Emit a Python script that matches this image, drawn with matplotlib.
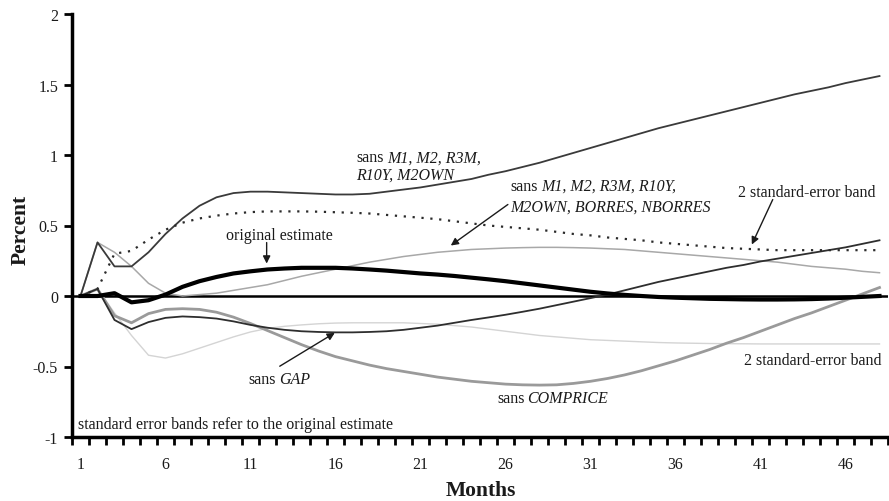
import numpy as np
import matplotlib
matplotlib.use("Agg")
import matplotlib.pyplot as plt

plt.rcParams["font.family"] = ["Liberation Serif", "DejaVu Serif"]

months = np.arange(1, 49)

# impulse responses (percent) for each specification
original = [0, 0, 0.02, -0.045, -0.03, 0.01, 0.065, 0.105, 0.135, 0.16,
            0.175, 0.188, 0.195, 0.2, 0.2, 0.2, 0.195, 0.188, 0.18, 0.17,
            0.16, 0.152, 0.142, 0.13, 0.118, 0.105, 0.09, 0.075, 0.06, 0.045,
            0.03, 0.018, 0.008, 0.0, -0.007, -0.012, -0.016, -0.02, -0.022, -0.024,
            -0.025, -0.025, -0.024, -0.022, -0.018, -0.012, -0.006, 0.0]
upper_band = [0, 0.05, 0.30, 0.32, 0.40, 0.47, 0.52, 0.55, 0.57, 0.585,
              0.595, 0.60, 0.60, 0.60, 0.598, 0.594, 0.59, 0.585, 0.575, 0.565,
              0.555, 0.545, 0.53, 0.515, 0.50, 0.49, 0.48, 0.47, 0.455, 0.44,
              0.43, 0.415, 0.405, 0.395, 0.38, 0.37, 0.36, 0.35, 0.34, 0.335,
              0.33, 0.325, 0.325, 0.325, 0.325, 0.325, 0.325, 0.325]
lower_band = [0, 0.05, -0.12, -0.28, -0.42, -0.44, -0.41, -0.37, -0.33, -0.29,
              -0.255, -0.23, -0.215, -0.205, -0.197, -0.192, -0.19, -0.19, -0.19, -0.19,
              -0.195, -0.20, -0.21, -0.22, -0.235, -0.25, -0.265, -0.28, -0.29, -0.30,
              -0.31, -0.315, -0.32, -0.325, -0.33, -0.333, -0.335, -0.337, -0.338, -0.339,
              -0.34, -0.34, -0.34, -0.34, -0.34, -0.34, -0.34, -0.34]
sans_money = [0, 0.38, 0.21, 0.21, 0.31, 0.44, 0.55, 0.64, 0.70, 0.73,
              0.74, 0.74, 0.735, 0.73, 0.725, 0.72, 0.72, 0.725, 0.74, 0.755,
              0.77, 0.79, 0.81, 0.83, 0.86, 0.885, 0.915, 0.945, 0.98, 1.015,
              1.05, 1.085, 1.12, 1.155, 1.19, 1.22, 1.25, 1.28, 1.31, 1.34,
              1.37, 1.40, 1.43, 1.455, 1.48, 1.51, 1.535, 1.56]
sans_money_res = [0, 0.38, 0.31, 0.21, 0.09, 0.02, 0.0, 0.01, 0.02, 0.04,
                  0.06, 0.08, 0.11, 0.14, 0.165, 0.19, 0.215, 0.24, 0.26, 0.28,
                  0.295, 0.31, 0.32, 0.33, 0.335, 0.34, 0.343, 0.345, 0.345, 0.343,
                  0.34, 0.335, 0.33, 0.32, 0.31, 0.30, 0.29, 0.28, 0.27, 0.26,
                  0.25, 0.24, 0.225, 0.21, 0.20, 0.19, 0.175, 0.165]
sans_gap = [0, 0.05, -0.17, -0.235, -0.185, -0.155, -0.145, -0.15, -0.16, -0.18,
            -0.205, -0.225, -0.24, -0.25, -0.255, -0.258, -0.258, -0.255, -0.25, -0.24,
            -0.225, -0.21, -0.19, -0.17, -0.152, -0.133, -0.112, -0.09, -0.065, -0.04,
            -0.015, 0.01, 0.04, 0.07, 0.10, 0.125, 0.15, 0.175, 0.20, 0.22,
            0.245, 0.265, 0.285, 0.305, 0.325, 0.345, 0.37, 0.395]
sans_comprice = [0, 0.05, -0.14, -0.19, -0.125, -0.095, -0.09, -0.095, -0.115, -0.15,
                 -0.195, -0.245, -0.295, -0.345, -0.39, -0.43, -0.46, -0.49, -0.515, -0.535,
                 -0.555, -0.575, -0.59, -0.605, -0.615, -0.625, -0.63, -0.632, -0.63, -0.62,
                 -0.605, -0.585, -0.56, -0.53, -0.495, -0.46, -0.42, -0.38, -0.335, -0.295,
                 -0.25, -0.205, -0.16, -0.12, -0.075, -0.03, 0.015, 0.06]

y_ticks = [-1, -0.5, 0, 0.5, 1, 1.5, 2]
y_tick_labels = ["-1", "-0.5", "0", "0.5", "1", "1.5", "2"]
x_label_months = [1, 6, 11, 16, 21, 26, 31, 36, 41, 46]

FS = 11.5
TXT = "#1a1a1a"

fig = plt.figure(figsize=(8.89, 5.02), dpi=100)
ax = fig.add_axes([72 / 889, 1 - 438 / 502, 816 / 889, 423 / 502])

ax.axhline(0, color="black", lw=1.8, zorder=2)
ax.plot(months, lower_band, color="#d4d4d4", lw=1.0, zorder=3)
ax.plot(months, sans_money_res, color="#a8a8a8", lw=1.1, zorder=3)
ax.plot(months, sans_comprice, color="#9a9a9a", lw=2.0, zorder=3)
ax.plot(months, sans_gap, color="#2e2e2e", lw=1.3, zorder=4)
ax.plot(months, sans_money, color="#3a3a3a", lw=1.3, zorder=4)
ax.plot(months, upper_band, color="#2a2a2a", lw=1.6, ls=(0, (1, 3)), zorder=4)
ax.plot(months, original, color="black", lw=3.0, zorder=5)

ax.set_xlim(0.5, 48.5)
ax.set_ylim(-1, 2)

for side in ("top", "right"):
    ax.spines[side].set_visible(False)
for side in ("left", "bottom"):
    ax.spines[side].set_linewidth(2.5)

ax.set_yticks(y_ticks)
ax.set_yticklabels(y_tick_labels)
ax.set_xticks(x_label_months)
ax.set_xticklabels([str(m) for m in x_label_months])
# tick marks sit between the months, labels on every fifth month
ax.set_xticks(np.arange(0.5, 49), minor=True)
ax.tick_params(axis="y", direction="out", length=6, width=2, pad=4,
               labelsize=FS, labelcolor=TXT)
ax.tick_params(axis="x", which="major", length=0, pad=14,
               labelsize=FS, labelcolor=TXT)
ax.tick_params(axis="x", which="minor", direction="out", length=6, width=2)

fig.text(21 / 889, 1 - 230 / 502, "Percent", rotation=90, ha="center",
         va="center", fontsize=15.5, fontweight="bold", color=TXT)
fig.text(481 / 889, 1 - 491 / 502, "Months", ha="center", va="center",
         fontsize=15.5, fontweight="bold", color=TXT)


def mixed(x, y, plain, italic):
    t = ax.text(x, y, plain, fontsize=FS, color=TXT, va="baseline", ha="left")
    ax.annotate(italic, xy=(1, 0), xycoords=t, xytext=(2.2, 0),
                textcoords="offset points", fontsize=FS, color=TXT,
                fontstyle="italic", va="bottom", ha="left")


def arrow(start, tip):
    ax.annotate("", xy=tip, xytext=start,
                arrowprops=dict(arrowstyle="-|>", color=TXT, lw=1.0,
                                mutation_scale=11, shrinkA=0, shrinkB=0))


mixed(17.24, 0.956, "sans", "M1, M2, R3M,")
ax.text(17.24, 0.831, "R10Y, M2OWN", fontsize=FS, color=TXT,
        fontstyle="italic", va="baseline", ha="left")

mixed(26.3, 0.755, "sans", "M1, M2, R3M, R10Y,")
ax.text(26.3, 0.608, "M2OWN, BORRES, NBORRES", fontsize=FS, color=TXT,
        fontstyle="italic", va="baseline", ha="left")
arrow((26.14, 0.649), (22.78, 0.358))

ax.text(43.75, 0.708, "2 standard-error band", fontsize=FS, color=TXT,
        ha="center", va="baseline")
arrow((41.72, 0.684), (40.49, 0.365))

ax.text(12.69, 0.406, "original estimate", fontsize=FS, color=TXT,
        ha="center", va="baseline")
arrow((11.95, 0.379), (11.95, 0.23))

mixed(10.9, -0.62, "sans", "GAP")
arrow((12.72, -0.498), (15.96, -0.261))

mixed(25.5, -0.753, "sans", "COMPRICE")

ax.text(44.05, -0.481, "2 standard-error band", fontsize=FS, color=TXT,
        ha="center", va="baseline")

ax.text(0.84, -0.933, "standard error bands refer to the original estimate",
        fontsize=FS, color=TXT, ha="left", va="baseline")

fig.savefig("out.png", dpi=100)
